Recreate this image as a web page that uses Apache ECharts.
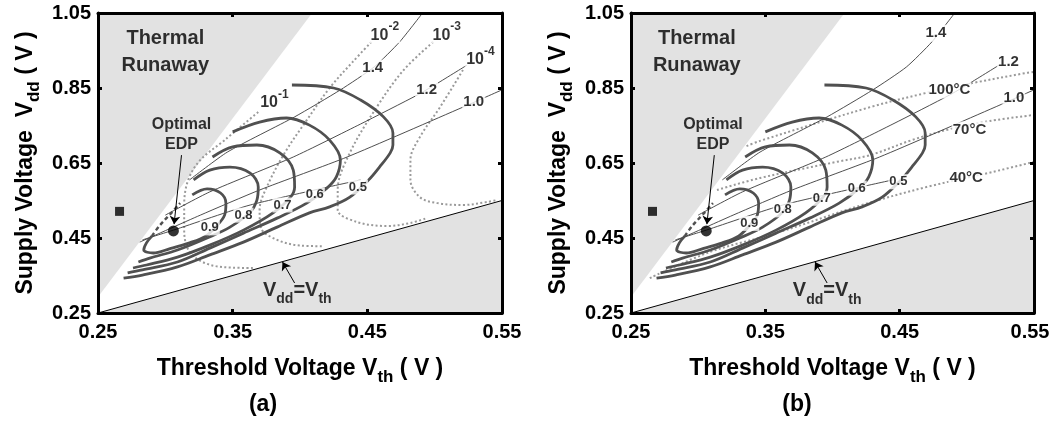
<!DOCTYPE html>
<html><head><meta charset="utf-8">
<script src="https://cdn.jsdelivr.net/npm/echarts@6/dist/echarts.min.js"></script>
<style>html,body{margin:0;padding:0;background:#fff}#c{width:1052px;height:422px}</style>
</head><body><div id="c"></div>
<script>
// ---- axis ticks ----
const xTickLabels = [0.25, 0.35, 0.45, 0.55];
const yTickLabels = [0.25, 0.45, 0.65, 0.85, 1.05];
const xInnerTicks = [0.35, 0.45];
const yInnerTicks = [0.45, 0.65, 0.85];

// ---- regions ----
const thermalEdge = [[0.25, 0.293], [0.409, 1.05]];
const vddEqVth = [[0.25, 0.25], [0.55, 0.55]];

// ---- EDP contours (same in both panels) ----
const edp09 = [[0.320,0.565],[0.331,0.581],[0.341,0.570],[0.345,0.543],[0.344,0.511],[0.338,0.482],[0.330,0.455],[0.318,0.437],[0.303,0.421],[0.291,0.410],[0.284,0.418],[0.286,0.437],[0.290,0.455]];
const edp09Dash = [[0.290,0.455],[0.296,0.484],[0.304,0.515],[0.311,0.543]];
const edp08 = [[0.321,0.605],[0.333,0.631],[0.348,0.639],[0.363,0.623],[0.369,0.586],[0.368,0.551],[0.363,0.519],[0.348,0.479],[0.331,0.450],[0.309,0.418],[0.289,0.397],[0.280,0.386]];
const edp07 = [[0.335,0.666],[0.350,0.693],[0.368,0.698],[0.385,0.677],[0.395,0.631],[0.396,0.586],[0.393,0.559],[0.380,0.517],[0.358,0.471],[0.333,0.431],[0.309,0.399],[0.286,0.378],[0.276,0.370]];
const edp06 = [[0.350,0.733],[0.370,0.759],[0.390,0.770],[0.407,0.751],[0.422,0.711],[0.430,0.658],[0.427,0.613],[0.420,0.583],[0.405,0.543],[0.383,0.503],[0.358,0.463],[0.333,0.423],[0.309,0.386],[0.283,0.365],[0.272,0.357]];
const edp05 = [[0.394,0.858],[0.425,0.850],[0.445,0.818],[0.462,0.773],[0.469,0.730],[0.469,0.698],[0.467,0.677],[0.459,0.639],[0.451,0.605],[0.437,0.559],[0.422,0.533],[0.407,0.517],[0.383,0.479],[0.358,0.439],[0.333,0.405],[0.309,0.373],[0.283,0.351],[0.269,0.343]];

// ---- thin lines (same in both panels) ----
const thin14 = [[0.318,0.605],[0.346,0.679],[0.396,0.773],[0.430,0.845],[0.455,0.906],[0.474,0.973],[0.491,1.05]];
const thin12 = [[0.300,0.511],[0.333,0.573],[0.395,0.666],[0.445,0.754],[0.487,0.831],[0.500,0.858],[0.524,0.911]];
const thin10 = [[0.281,0.439],[0.326,0.511],[0.370,0.578],[0.435,0.666],[0.521,0.799],[0.550,0.845]];
const thin08 = [[0.283,0.445],[0.306,0.471],[0.363,0.538],[0.445,0.605]];

// ---- panel (a) leakage contours ----
const leak1 = [[0.369,0.786],[0.344,0.711],[0.326,0.658],[0.317,0.605],[0.314,0.538],[0.314,0.471],[0.318,0.413],[0.331,0.381],[0.350,0.371],[0.366,0.370]];
const leak2 = [[0.453,0.973],[0.439,0.919],[0.422,0.850],[0.404,0.759],[0.389,0.679],[0.376,0.591],[0.370,0.525],[0.371,0.477],[0.383,0.445],[0.400,0.430],[0.418,0.428]];
const leak3 = [[0.499,0.973],[0.477,0.898],[0.457,0.799],[0.437,0.677],[0.428,0.578],[0.428,0.525],[0.442,0.493],[0.465,0.482],[0.482,0.490],[0.494,0.503]];
const leak4 = [[0.521,0.898],[0.504,0.799],[0.489,0.719],[0.482,0.658],[0.482,0.605],[0.489,0.559],[0.502,0.543],[0.521,0.538],[0.539,0.546],[0.546,0.551]];

// ---- panel (b) temperature contours ----
const temp100 = [[0.336,0.695],[0.346,0.709],[0.428,0.799],[0.470,0.837],[0.504,0.863],[0.544,0.890],[0.550,0.893]];
const temp70 = [[0.314,0.578],[0.346,0.610],[0.403,0.653],[0.428,0.671],[0.459,0.711],[0.488,0.741],[0.517,0.762],[0.550,0.778]];
const temp40 = [[0.264,0.343],[0.309,0.413],[0.358,0.463],[0.422,0.538],[0.470,0.586],[0.519,0.626],[0.550,0.653]];

// ---- markers ----
const squarePoint = [[0.266, 0.521]];
const edpPoint = [[0.306, 0.469]];
const edpArrow = [[0.312, 0.671], [0.3065, 0.487]];
const vddArrow = [[0.396, 0.330], [0.387, 0.386]];

// ---- text labels: [text, vth, vdd, whiteBackground] ----
const labelsA = [
  ['{t|Thermal}\n{t|Runaway}', 0.300, 0.947, false],
  ['{o|Optimal}\n{o|EDP}', 0.312, 0.725, false],
  ['{c|0.9}', 0.333, 0.477, true], ['{c|0.8}', 0.358, 0.511, true], ['{c|0.7}', 0.387, 0.538, true],
  ['{c|0.6}', 0.411, 0.565, true], ['{c|0.5}', 0.443, 0.586, true],
  ['{n|1.4}', 0.454, 0.903, true], ['{n|1.2}', 0.494, 0.845, true], ['{n|1.0}', 0.529, 0.813, true],
  ['{b|10}{s|-1}', 0.381, 0.818, true], ['{b|10}{s|-2}', 0.463, 0.999, true],
  ['{b|10}{s|-3}', 0.509, 0.999, true], ['{b|10}{s|-4}', 0.534, 0.933, true],
  ['{V|V}{d|dd}{V|=V}{d|th}', 0.398, 0.303, false]
];
const labelsB = [
  ['{t|Thermal}\n{t|Runaway}', 0.299, 0.947, false],
  ['{o|Optimal}\n{o|EDP}', 0.311, 0.725, false],
  ['{c|0.9}', 0.338, 0.489, true], ['{c|0.8}', 0.363, 0.525, true], ['{c|0.7}', 0.392, 0.556, true],
  ['{c|0.6}', 0.418, 0.583, true], ['{c|0.5}', 0.449, 0.600, true],
  ['{n|1.4}', 0.477, 0.996, true], ['{n|1.2}', 0.531, 0.920, true], ['{n|1.0}', 0.535, 0.823, true],
  ['{n|100°C}', 0.487, 0.845, true], ['{n|70°C}', 0.502, 0.738, true], ['{n|40°C}', 0.4995, 0.610, true],
  ['{V|V}{d|dd}{V|=V}{d|th}', 0.396, 0.301, false]
];

const F = '"Liberation Sans", Arial, Helvetica, sans-serif';
const B = {fontWeight: 'bold', fontFamily: F, color: '#000'};
const rich = {
  t: Object.assign({fontSize: 20, lineHeight: 27, align: 'center'}, B),
  o: Object.assign({fontSize: 16, lineHeight: 20, align: 'center'}, B),
  c: Object.assign({fontSize: 13, lineHeight: 15}, B),
  n: Object.assign({fontSize: 15, lineHeight: 17}, B),
  b: Object.assign({fontSize: 16, lineHeight: 22, verticalAlign: 'bottom'}, B),
  s: Object.assign({fontSize: 12, lineHeight: 22, verticalAlign: 'top'}, B),
  V: Object.assign({fontSize: 20, lineHeight: 26, verticalAlign: 'top'}, B),
  d: Object.assign({fontSize: 14, lineHeight: 26, verticalAlign: 'bottom'}, B)
};

const thick = {color: '#505050', width: 2.8};
const thin = {color: '#3a3a3a', width: 0.9};
const dot = {color: '#9a9a9a', width: 2, type: [2, 2.4]};
const GREY = '#e2e2e2';

const nameRich = {
  m: Object.assign({fontSize: 23, lineHeight: 29, verticalAlign: 'top'}, B),
  s: Object.assign({fontSize: 17, lineHeight: 29, verticalAlign: 'bottom'}, B)
};
const tickRich = {
  r: Object.assign({fontSize: 20, padding: [0, 8, 0, 0]}, B)
};

function xAx(g, pos, main) {
  return {
    type: 'value', gridIndex: g, position: pos, min: 0.25, max: 0.55, z: 10,
    axisLine: {show: true, onZero: false, lineStyle: {color: '#000', width: 3}},
    axisTick: {show: true, inside: true, length: 4, customValues: xInnerTicks, lineStyle: {color: '#000', width: 3}},
    axisLabel: main ? {
      show: true, customValues: xTickLabels, rich: tickRich,
      formatter: v => (g === 1 && v > 0.54) ? '{r|' + v.toFixed(2) + '}' : v.toFixed(2),
      color: '#000', fontSize: 20, fontWeight: 'bold', fontFamily: F, margin: 9} : {show: false},
    splitLine: {show: false},
    name: main ? '{m|Threshold Voltage V}{s|th}{m| ( V )}' : '',
    nameLocation: 'middle', nameGap: 44,
    nameTextStyle: {rich: nameRich}
  };
}
function yAx(g, pos, main) {
  return {
    type: 'value', gridIndex: g, position: pos, min: 0.25, max: 1.05, z: 10,
    axisLine: {show: true, onZero: false, lineStyle: {color: '#000', width: 3}},
    axisTick: {show: true, inside: true, length: 4, customValues: yInnerTicks, lineStyle: {color: '#000', width: 3}},
    axisLabel: main ? {show: true, customValues: yTickLabels, formatter: v => v.toFixed(2), color: '#000', fontSize: 20, fontWeight: 'bold', fontFamily: F, margin: 7} : {show: false},
    splitLine: {show: false},
    name: main ? '{m|Supply Voltage  V}{s|dd}{m| ( V )}' : '',
    nameLocation: 'middle', nameGap: 55,
    nameTextStyle: {rich: nameRich}
  };
}

function ln(g, data, style, z, extra) {
  return Object.assign({
    type: 'line', xAxisIndex: g * 2, yAxisIndex: g * 2, data: data, symbol: 'none',
    smooth: 0.35, lineStyle: style, z: z, silent: true, animation: false
  }, extra || {});
}

function panel(g, labels, dottedSet) {
  const s = [];
  s.push(ln(g, thermalEdge, {width: 0}, 1, {smooth: false, areaStyle: {color: GREY, opacity: 1, origin: 'end'}}));
  s.push(ln(g, vddEqVth, {color: '#000', width: 1}, 1, {smooth: false, areaStyle: {color: GREY, opacity: 1, origin: 'start'}}));
  dottedSet.forEach(d => s.push(ln(g, d, dot, 2)));
  [thin14, thin12, thin10, thin08].forEach(d => s.push(ln(g, d, thin, 3, {smooth: 0.2})));
  [edp09, edp08, edp07, edp06, edp05].forEach(d => s.push(ln(g, d, thick, 4)));
  s.push(ln(g, edp09Dash, {color: '#505050', width: 2.4, type: [4, 3]}, 4));
  s.push({
    type: 'scatter', xAxisIndex: g * 2, yAxisIndex: g * 2, symbolSize: 0, z: 6, silent: true, animation: false,
    data: labels.map(l => ({value: [l[1], l[2]], label: {
      show: true, position: 'inside', formatter: l[0], rich: rich,
      backgroundColor: l[3] ? '#fff' : 'transparent', padding: l[3] ? [0, 1] : 0}}))
  });
  s.push({
    type: 'scatter', xAxisIndex: g * 2, yAxisIndex: g * 2, symbol: 'rect', symbolSize: 9,
    itemStyle: {color: '#000'}, data: squarePoint, z: 7, silent: true, animation: false
  });
  s.push({
    type: 'scatter', xAxisIndex: g * 2, yAxisIndex: g * 2, symbol: 'circle', symbolSize: 11,
    itemStyle: {color: '#000'}, data: edpPoint, z: 7, silent: true, animation: false,
    markLine: {
      silent: true, animation: false, symbol: ['none', 'arrow'], symbolSize: 8,
      lineStyle: {color: '#000', width: 1, type: 'solid'}, label: {show: false},
      data: [
        [{coord: edpArrow[0]}, {coord: edpArrow[1]}],
        [{coord: vddArrow[0]}, {coord: vddArrow[1]}]
      ]
    }
  });
  return s;
}

const chart = echarts.init(document.getElementById('c'), null, {renderer: 'canvas'});
chart.setOption({
  animation: false,
  backgroundColor: '#fff',
  grid: [
    {left: 98, right: 550, top: 13, bottom: 109, outerBoundsMode: 'none'},
    {left: 631, right: 18, top: 13, bottom: 109, outerBoundsMode: 'none'}
  ],
  xAxis: [xAx(0, 'bottom', true), xAx(0, 'top', false), xAx(1, 'bottom', true), xAx(1, 'top', false)],
  yAxis: [yAx(0, 'left', true), yAx(0, 'right', false), yAx(1, 'left', true), yAx(1, 'right', false)],
  graphic: [
    {type: 'text', x: 263, y: 405, style: {text: '(a)', fontSize: 23, fontWeight: 'bold', fontFamily: F, fill: '#000', align: 'center', verticalAlign: 'middle'}},
    {type: 'text', x: 797, y: 405, style: {text: '(b)', fontSize: 23, fontWeight: 'bold', fontFamily: F, fill: '#000', align: 'center', verticalAlign: 'middle'}}
  ],
  series: panel(0, labelsA, [leak1, leak2, leak3, leak4]).concat(panel(1, labelsB, [temp100, temp70, temp40]))
});
</script>
</body></html>
